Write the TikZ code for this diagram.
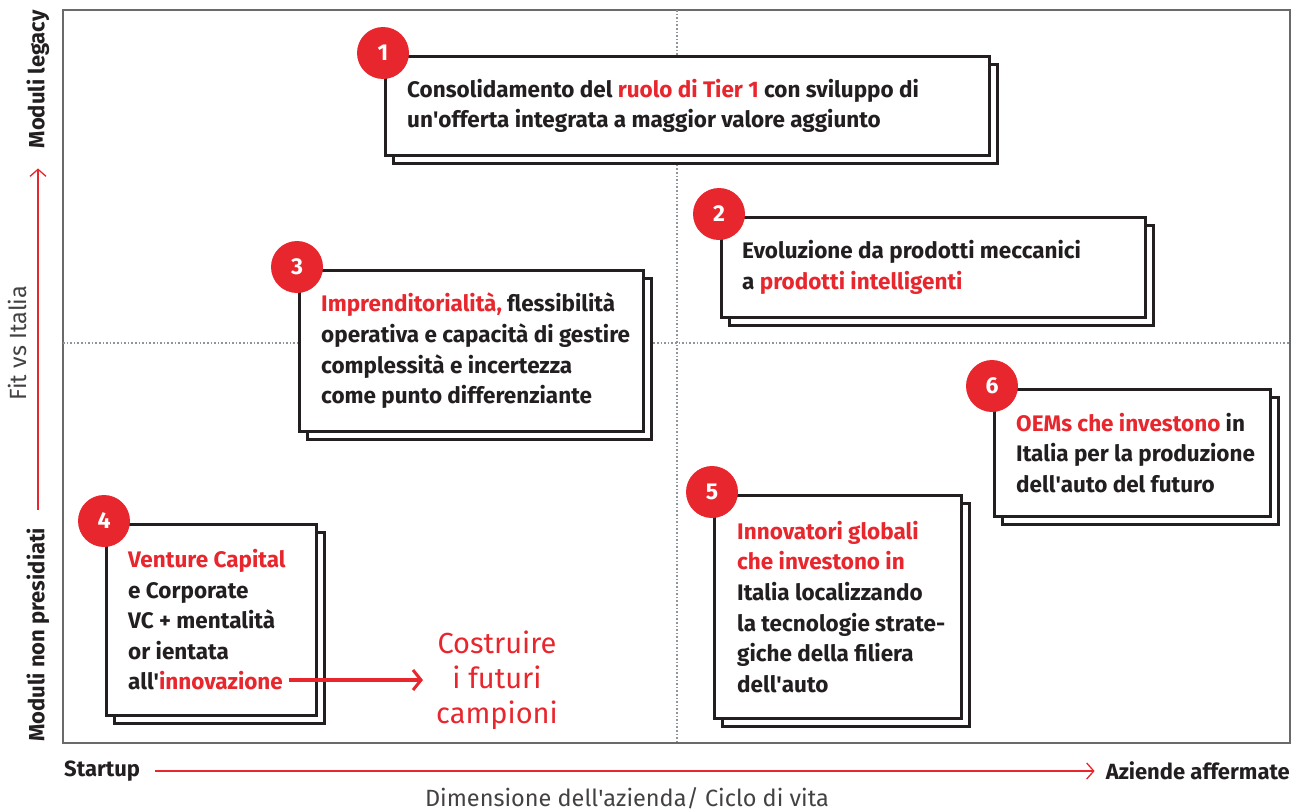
\documentclass[tikz,border=0pt]{standalone}
\usepackage{fontspec}
\setmainfont{Fira Sans}
\usepackage{xcolor}
\usetikzlibrary{arrows.meta,shadows,positioning}
\definecolor{brandred}{HTML}{E8262D}
\definecolor{inkgray}{HTML}{231F20}
\definecolor{framegray}{HTML}{6A6A6A}
\definecolor{dotgray}{HTML}{8E959B}
\newcommand{\hl}[1]{\textcolor{brandred}{#1}}
\newcommand{\ap}{\textquotesingle}

\tikzset{
  card/.style={draw=inkgray, line width=2.6pt, fill=white, anchor=north west, inner sep=0pt,
    copy shadow={shadow xshift=8pt, shadow yshift=-8pt, draw=inkgray, fill=white, line width=2.6pt}},
  cardtext/.style={anchor=west, inner sep=0pt, align=left, text=inkgray,
    font=\bfseries\fontsize{22.5}{30.6}\selectfont},
  badge/.style={circle, fill=brandred, text=white, minimum size=52pt, inner sep=0pt,
    font=\bfseries\fontsize{23}{23}\selectfont},
  axislabel/.style={inner sep=0pt, text=inkgray, font=\bfseries\fontsize{22}{24}\selectfont},
  axistitle/.style={inner sep=0pt, text=inkgray!85, font=\fontsize{23.5}{25}\selectfont},
  axisarrow/.style={draw=brandred, line width=1.3pt, -{Straight Barb[length=7pt,width=16pt,line width=1.3pt]}},
  goarrow/.style={draw=brandred, line width=4pt, -{Straight Barb[length=8pt,width=20pt,line width=3pt]}},
}

\begin{document}
\begin{tikzpicture}[x=1pt, y=-1pt]
  \useasboundingbox (0,0) rectangle (1303,811);

  % quadrants
  \draw[framegray, line width=1.8pt] (63,10) rectangle (1290,743);
  \draw[dotgray, line width=1.6pt, dotted] (677,10) -- (677,743);
  \draw[dotgray, line width=1.6pt, dotted] (63,343) -- (1290,343);

  % cards
  \node[card, minimum width=604pt, minimum height=99pt] (box1) at (384,55) {};
  \node[card, minimum width=424pt, minimum height=100pt] (box2) at (720,216) {};
  \node[card, minimum width=344pt, minimum height=161pt] (box3) at (298,269) {};
  \node[card, minimum width=210pt, minimum height=191pt] (box4) at (105,523) {};
  \node[card, minimum width=247pt, minimum height=223pt] (box5) at (713,494) {};
  \node[card, minimum width=276pt, minimum height=127pt] (box6) at (993,388) {};

  \node[cardtext] (txt1) at ([xshift=23pt]box1.west)
    {Consolidamento del \hl{ruolo di Tier 1} con sviluppo di\\un\ap offerta integrata a maggior valore aggiunto};
  \node[cardtext] (txt2) at ([xshift=22pt]box2.west)
    {Evoluzione da prodotti meccanici\\a \hl{prodotti intelligenti}};
  \node[cardtext] (txt3) at ([xshift=23pt]box3.west)
    {\hl{Imprenditorialità,} flessibilità\\operativa e capacità di gestire\\complessità e incertezza\\come punto differenziante};
  \node[cardtext] (txt4) at ([xshift=23pt]box4.west)
    {\hl{Venture Capital}\\e Corporate\\VC + mentalità\\or ientata\\all\ap\hl{innovazione}};
  \node[cardtext] (txt5) at ([xshift=24pt]box5.west)
    {\hl{Innovatori globali}\\\hl{che investono in}\\Italia localizzando\\la tecnologie strate-\\giche della filiera\\dell\ap auto};
  \node[cardtext] (txt6) at ([xshift=23pt]box6.west)
    {\hl{OEMs che investono} in\\Italia per la produzione\\dell\ap auto del futuro};

  % badges
  \foreach \i in {1,...,6}
    \node[badge] (num\i) at ([shift={(-1pt,2pt)}]box\i.north west) {\i};

  % champions
  \node[inner sep=0pt, align=center, text=brandred, font=\fontsize{29}{35}\selectfont]
    (champ) at (497,680) {Costruire\\i futuri\\campioni};
  \draw[goarrow] ([xshift=3pt]txt4.east |- champ.west) -- ([xshift=-13pt]champ.west);

  % axes
  \node[axislabel, anchor=west] (startup) at (64,771) {Startup};
  \node[axislabel, anchor=east] (mature) at (1290,771) {Aziende affermate};
  \draw[axisarrow] ([xshift=15pt]startup.east) -- ([xshift=-11pt]mature.west);
  \node[axistitle] (xtitle) at (627,798) {Dimensione dell\ap azienda/ Ciclo di vita};

  \node[axislabel, rotate=90, anchor=west] (unmanned) at (38,742) {Moduli non presidiati};
  \node[axislabel, rotate=90, anchor=east] (legacy) at (38,10) {Moduli legacy};
  \draw[axisarrow] ([yshift=18pt]unmanned.east) -- ([yshift=-20pt]legacy.west);
  \node[axistitle, rotate=90] (ytitle) at (17,343) {Fit vs Italia};
\end{tikzpicture}
\end{document}
